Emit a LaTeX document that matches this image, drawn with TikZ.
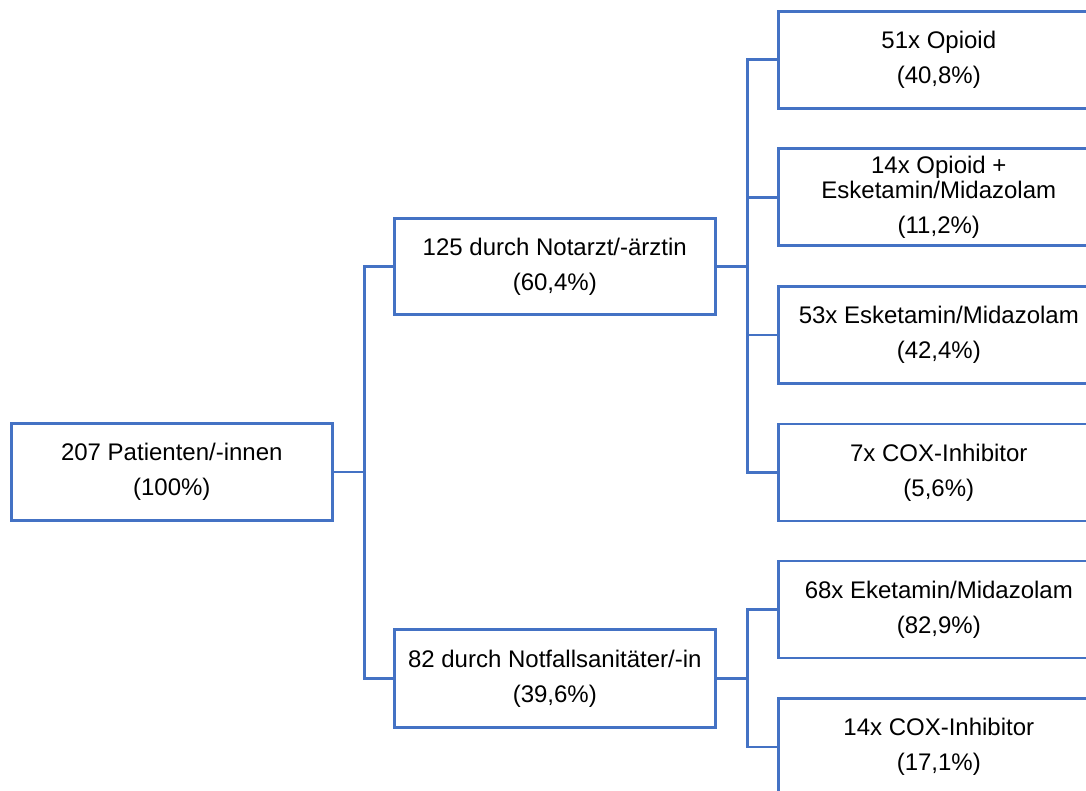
\documentclass[tikz,border=0pt]{standalone}
\usepackage{fontspec}
\setmainfont{Liberation Sans}
\definecolor{lineblue}{HTML}{4472C4}
\begin{document}
\begin{tikzpicture}[x=1pt,y=-1pt,
  box/.style={draw=lineblue, line width=2.6pt, fill=white, anchor=north west,
    minimum height=97pt, inner sep=0pt, align=center,
    font=\fontsize{24}{35}\selectfont},
  wbox/.style={box, minimum width=321pt},
  conn/.style={draw=lineblue, line width=2.6pt}]
\useasboundingbox (0,0) rectangle (1086,791);
\clip (0,0) rectangle (1086,791);
\node[box, minimum width=321pt] (root) at (10,422) {207 Patienten/-innen\\(100\%)};
\node[box, minimum width=321pt, minimum height=96pt] (nA) at (393,217) {125 durch Notarzt/-ärztin\\(60,4\%)};
\node[box, minimum width=321pt, minimum height=98pt] (nB) at (393,628) {82 durch Notfallsanitäter/-in\\(39,6\%)};
\node[wbox] (a1) at (777,10) {51x Opioid\\(40,8\%)};
\node[wbox] (a2) at (777,147.5) {14x Opioid +\\[-10pt]Esketamin/Midazolam\\(11,2\%)};
\node[wbox] (a3) at (777,285) {53x Esketamin/Midazolam\\(42,4\%)};
\node[wbox] (a4) at (777,422.5) {7x COX-Inhibitor\\(5,6\%)};
\node[wbox] (b1) at (777,559.5) {68x Eketamin/Midazolam\\(82,9\%)};
\node[wbox] (b2) at (777,697) {14x COX-Inhibitor\\(17,1\%)};
% connectors
\draw[conn] (root.east) -- ++(31,0) coordinate (t1) |- (nA.west);
\draw[conn] (t1) |- (nB.west);
\draw[conn] (nA.east) -- ++(31,0) coordinate (t2) |- (a1.west);
\draw[conn] (t2) |- (a2.west);
\draw[conn] (t2) |- (a3.west);
\draw[conn] (t2) |- (a4.west);
\draw[conn] (nB.east) -- ++(31,0) coordinate (t3) |- (b1.west);
\draw[conn] (t3) |- (b2.west);
\end{tikzpicture}
\end{document}
